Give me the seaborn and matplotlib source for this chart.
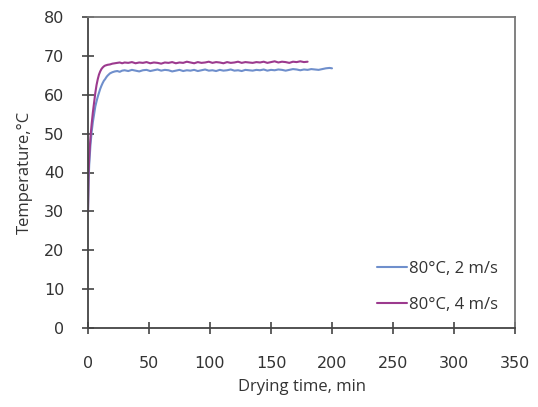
import matplotlib
matplotlib.use("Agg")
import matplotlib.pyplot as plt
import seaborn as sns
import pandas as pd

# ---- data ----
blue_time = [0, 0.5, 1, 2, 3, 4, 5, 6, 7, 8, 9, 10, 11, 12, 13, 14, 15, 16, 17, 18,
             20, 22, 24, 26, 28, 30,
             33, 36, 39, 42, 45, 48, 51, 54, 57, 60, 63, 66, 69, 72, 75, 78, 81, 84,
             87, 90, 93, 96, 99, 102, 105, 108, 111, 114, 117, 120, 123, 126, 129,
             132, 135, 138, 141, 144, 147, 150, 153, 156, 159, 162, 165, 168, 171,
             174, 177, 180, 183, 186, 189, 192, 195, 198, 200]
blue_temp = [30.0, 38.0, 42.0, 47.0, 50.5, 53.0, 55.0, 57.0, 58.3, 59.5, 60.5, 61.5, 62.3, 63.0, 63.6, 64.0, 64.5, 64.9, 65.2, 65.5,
             65.8, 66.0, 66.1, 65.9, 66.2, 66.3,
             66.1, 66.4, 66.2, 66.0, 66.3, 66.4, 66.1, 66.3, 66.5, 66.2, 66.4, 66.3, 66.0, 66.2, 66.4, 66.1, 66.3, 66.2,
             66.4, 66.1, 66.3, 66.5, 66.2, 66.3, 66.1, 66.4, 66.2, 66.3, 66.5, 66.2, 66.3, 66.1, 66.4,
             66.3, 66.2, 66.4, 66.3, 66.5, 66.2, 66.4, 66.3, 66.5, 66.4, 66.2, 66.4, 66.6, 66.5,
             66.3, 66.5, 66.4, 66.6, 66.5, 66.4, 66.6, 66.8, 66.9, 66.8]

purple_time = [0, 0.5, 1, 2, 3, 4, 5, 6, 7, 8, 9, 10, 11, 12, 13, 14, 15, 16, 18,
               20, 22, 24, 26, 28, 30,
               33, 36, 39, 42, 45, 48, 51, 54, 57, 60, 63, 66, 69, 72, 75, 78, 81, 84,
               87, 90, 93, 96, 99, 102, 105, 108, 111, 114, 117, 120, 123, 126, 129,
               132, 135, 138, 141, 144, 147, 150, 153, 156, 159, 162, 165, 168, 171,
               174, 177, 180]
purple_temp = [30.0, 40.0, 44.0, 49.0, 52.5, 55.5, 58.0, 60.5, 62.5, 64.0, 65.2, 66.0, 66.6, 67.0, 67.3, 67.5, 67.6, 67.7, 67.8,
               68.0, 68.1, 68.2, 68.3, 68.1, 68.3,
               68.2, 68.4, 68.1, 68.3, 68.2, 68.4, 68.1, 68.3, 68.2, 68.0, 68.3, 68.2, 68.4, 68.1, 68.3, 68.2, 68.5, 68.3,
               68.1, 68.4, 68.2, 68.3, 68.5, 68.2, 68.4, 68.3, 68.1, 68.4, 68.2, 68.3, 68.5, 68.2, 68.4,
               68.3, 68.2, 68.4, 68.3, 68.5, 68.2, 68.4, 68.6, 68.3, 68.5, 68.4, 68.2, 68.5, 68.4,
               68.6, 68.4, 68.5]

label_blue = "80\u00b0C, 2 m/s"
label_purple = "80\u00b0C, 4 m/s"
x_ticks = [0, 50, 100, 150, 200, 250, 300, 350]
y_ticks = [0, 10, 20, 30, 40, 50, 60, 70, 80]

df = pd.concat([
    pd.DataFrame({"time": blue_time, "temp": blue_temp, "series": label_blue}),
    pd.DataFrame({"time": purple_time, "temp": purple_temp, "series": label_purple}),
])

sns.set_theme(style="white")
plt.rcParams["font.family"] = ["DejaVu Sans"]

fig = plt.figure(figsize=(5.38, 4.07), dpi=100)
ax = fig.add_axes([88 / 538, 1 - 328 / 407, (515 - 88) / 538, (328 - 17) / 407])

sns.lineplot(data=df, x="time", y="temp", hue="series",
             palette={label_blue: "#6f8fcc", label_purple: "#9c3a8e"},
             linewidth=1.5, ax=ax, estimator=None, sort=False)

ax.set_xlim(0, 350)
ax.set_ylim(0, 80)
ax.set_xticks(x_ticks)
ax.set_yticks(y_ticks)
ax.tick_params(axis="both", which="major", bottom=True, left=True, top=False, right=False,
               direction="inout", length=8, width=1.2, color="#444444",
               labelsize=11.5, labelcolor="#333333")
ax.tick_params(axis="x", pad=16)
ax.tick_params(axis="y", pad=13)
for side in ["left", "bottom"]:
    ax.spines[side].set_color("#444444")
    ax.spines[side].set_linewidth(1.3)
for side in ["top", "right"]:
    ax.spines[side].set_color("#777777")
    ax.spines[side].set_linewidth(1.3)

ax.set_xlabel("Drying time, min", fontsize=12, color="#333333", family="Open Sans", labelpad=6)
ax.set_ylabel("Temperature,\u00b0C", fontsize=12, color="#333333", family="Open Sans", labelpad=8)

leg = ax.legend(loc="lower right", bbox_to_anchor=(0.995, 0.0), frameon=False,
                handlelength=1.8, handletextpad=0.1, labelspacing=1.2,
                prop={"family": "Open Sans", "size": 12})
for t in leg.get_texts():
    t.set_color("#333333")

fig.savefig("out.png", dpi=100)
